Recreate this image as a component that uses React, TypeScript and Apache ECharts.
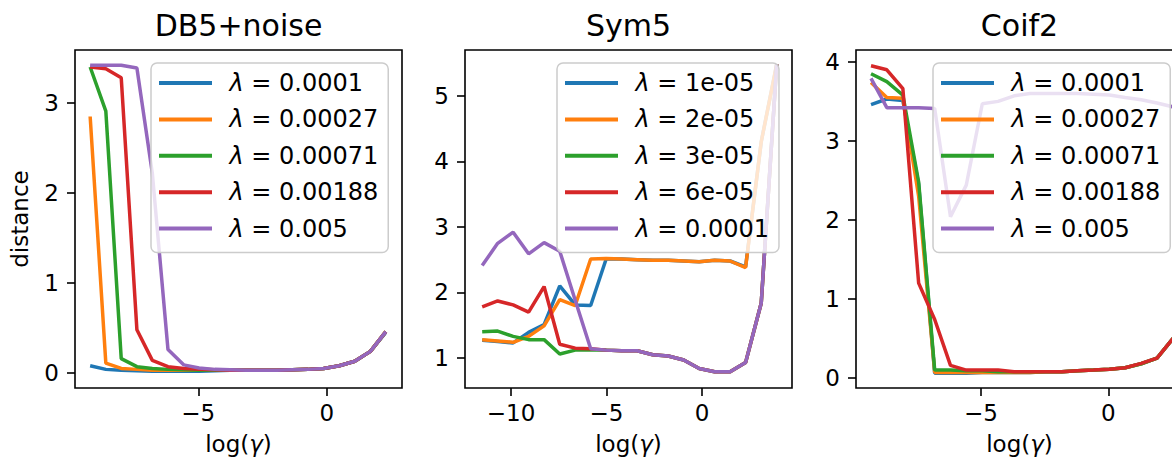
import React, { useEffect, useRef } from "react";
import * as echarts from "echarts";

// ---- data ----
const X_DB5 = [-9.21, -8.6, -8.0, -7.39, -6.79, -6.18, -5.57, -4.97, -4.36, -3.76, -3.15, -2.54, -1.94, -1.33, -0.73, -0.12, 0.49, 1.09, 1.7, 2.3];
const X_SYM5 = [-11.51, -10.7, -9.89, -9.08, -8.27, -7.45, -6.64, -5.83, -5.02, -4.21, -3.4, -2.58, -1.77, -0.96, -0.15, 0.66, 1.47, 2.28, 3.1, 3.91];
const X_COIF2 = [-9.32, -8.7, -8.07, -7.45, -6.82, -6.2, -5.58, -4.95, -4.33, -3.7, -3.08, -2.46, -1.83, -1.21, -0.58, 0.04, 0.66, 1.29, 1.91, 2.54];

const LAMBDA_DB5 = ["0.0001", "0.00027", "0.00071", "0.00188", "0.005"];
const LAMBDA_SYM5 = ["1e-05", "2e-05", "3e-05", "6e-05", "0.0001"];
const LAMBDA_COIF2 = ["0.0001", "0.00027", "0.00071", "0.00188", "0.005"];

const DB5_1 = [0.08, 0.04, 0.03, 0.025, 0.02, 0.02, 0.02, 0.02, 0.025, 0.03, 0.03, 0.03, 0.03, 0.035, 0.04, 0.05, 0.08, 0.13, 0.24, 0.45];
const DB5_2 = [2.85, 0.11, 0.05, 0.04, 0.03, 0.03, 0.03, 0.03, 0.03, 0.03, 0.03, 0.03, 0.03, 0.035, 0.04, 0.05, 0.08, 0.13, 0.24, 0.46];
const DB5_3 = [3.4, 2.91, 0.16, 0.07, 0.05, 0.04, 0.035, 0.03, 0.03, 0.03, 0.03, 0.03, 0.03, 0.035, 0.04, 0.05, 0.08, 0.13, 0.24, 0.46];
const DB5_4 = [3.4, 3.38, 3.28, 0.48, 0.14, 0.07, 0.05, 0.04, 0.035, 0.03, 0.03, 0.03, 0.03, 0.035, 0.04, 0.05, 0.08, 0.13, 0.24, 0.46];
const DB5_5 = [3.42, 3.42, 3.42, 3.39, 2.22, 0.26, 0.09, 0.055, 0.04, 0.035, 0.03, 0.03, 0.03, 0.035, 0.04, 0.05, 0.08, 0.13, 0.24, 0.46];

const SYM5_1 = [1.27, 1.25, 1.23, 1.39, 1.51, 2.1, 1.81, 1.8, 2.51, 2.51, 2.5, 2.49, 2.49, 2.48, 2.47, 2.49, 2.48, 2.39, 4.3, 5.48];
const SYM5_2 = [1.28, 1.26, 1.24, 1.33, 1.49, 1.89, 1.8, 2.51, 2.52, 2.51, 2.5, 2.49, 2.49, 2.48, 2.47, 2.49, 2.48, 2.38, 4.3, 5.48];
const SYM5_3 = [1.4, 1.41, 1.33, 1.28, 1.28, 1.06, 1.12, 1.12, 1.12, 1.11, 1.11, 1.05, 1.03, 0.97, 0.84, 0.79, 0.79, 0.93, 1.84, 5.48];
const SYM5_4 = [1.78, 1.87, 1.81, 1.7, 2.09, 1.21, 1.15, 1.14, 1.12, 1.11, 1.11, 1.05, 1.03, 0.97, 0.84, 0.79, 0.79, 0.93, 1.84, 5.48];
const SYM5_5 = [2.41, 2.75, 2.92, 2.59, 2.76, 2.63, 1.88, 1.14, 1.12, 1.11, 1.11, 1.05, 1.03, 0.97, 0.84, 0.79, 0.79, 0.93, 1.84, 5.48];

const COIF2_1 = [3.46, 3.53, 3.51, 2.45, 0.06, 0.06, 0.06, 0.07, 0.07, 0.07, 0.07, 0.08, 0.08, 0.09, 0.1, 0.11, 0.13, 0.18, 0.25, 0.5];
const COIF2_2 = [3.74, 3.55, 3.54, 2.3, 0.07, 0.07, 0.07, 0.07, 0.07, 0.07, 0.07, 0.08, 0.08, 0.09, 0.1, 0.11, 0.13, 0.18, 0.25, 0.5];
const COIF2_3 = [3.85, 3.75, 3.58, 2.48, 0.1, 0.1, 0.09, 0.09, 0.08, 0.08, 0.08, 0.08, 0.08, 0.09, 0.1, 0.11, 0.13, 0.18, 0.25, 0.5];
const COIF2_4 = [3.95, 3.9, 3.66, 1.2, 0.74, 0.16, 0.1, 0.1, 0.1, 0.08, 0.08, 0.08, 0.08, 0.09, 0.1, 0.11, 0.13, 0.185, 0.25, 0.5];
const COIF2_5 = [3.79, 3.42, 3.42, 3.42, 3.41, 2.04, 2.44, 3.47, 3.5, 3.57, 3.6, 3.6, 3.6, 3.6, 3.59, 3.58, 3.55, 3.52, 3.48, 3.43];

const TITLES = ["DB5+noise", "Sym5", "Coif2"];
const X_TICKS_DB5 = [-5, 0];
const X_TICKS_SYM5 = [-10, -5, 0];
const X_TICKS_COIF2 = [-5, 0];
const Y_TICKS_DB5 = [0, 1, 2, 3];
const Y_TICKS_SYM5 = [1, 2, 3, 4, 5];
const Y_TICKS_COIF2 = [0, 1, 2, 3, 4];

const COLORS = ["#1f77b4", "#ff7f0e", "#2ca02c", "#d62728", "#9467bd"];
const FONT = "DejaVu Sans";

export default function App() {
  const ref = useRef<HTMLDivElement>(null);
  useEffect(() => {
    if (!ref.current) return;
    const chart = echarts.init(ref.current, undefined, { renderer: "svg" });

    const panels = [
      { key: "A", x: X_DB5, ys: [DB5_1, DB5_2, DB5_3, DB5_4, DB5_5], lam: LAMBDA_DB5, xt: X_TICKS_DB5, yt: Y_TICKS_DB5,
        left: 75, xmin: -9.8, xmax: 2.93, ymin: -0.167, ymax: 3.589, legLeft: 151 },
      { key: "B", x: X_SYM5, ys: [SYM5_1, SYM5_2, SYM5_3, SYM5_4, SYM5_5], lam: LAMBDA_SYM5, xt: X_TICKS_SYM5, yt: Y_TICKS_SYM5,
        left: 465, xmin: -12.41, xmax: 4.71, ymin: 0.542, ymax: 5.70, legLeft: 557 },
      { key: "C", x: X_COIF2, ys: [COIF2_1, COIF2_2, COIF2_3, COIF2_4, COIF2_5], lam: LAMBDA_COIF2, xt: X_TICKS_COIF2, yt: Y_TICKS_COIF2,
        left: 856, xmin: -9.91, xmax: 2.93, ymin: -0.127, ymax: 4.15, legLeft: 933 },
    ];
    const TOP = 50, W = 327, H = 338;
    const fmt = (v: number) => (v < 0 ? "\u2212" + Math.abs(v) : String(v));
    const TICK = 23;

    const grid: any[] = [], xAxis: any[] = [], yAxis: any[] = [], series: any[] = [], legend: any[] = [], graphic: any[] = [];
    panels.forEach((p, pi) => {
      grid.push({ left: p.left, top: TOP, width: W, height: H, show: true, borderColor: "#000", borderWidth: 1.6, backgroundColor: "transparent" });
      xAxis.push({
        type: "value", gridIndex: pi, min: p.xmin, max: p.xmax, position: "bottom",
        axisLine: { show: false, onZero: false }, splitLine: { show: false },
        axisTick: { show: true, inside: false, length: 8, lineStyle: { color: "#000", width: 1.6 }, customValues: p.xt },
        axisLabel: { color: "#000", fontSize: TICK, fontFamily: FONT, margin: 13, customValues: p.xt, formatter: fmt },
        name: "log({g|γ})", nameLocation: "middle", nameGap: 44,
        nameTextStyle: { color: "#000", fontSize: TICK, fontFamily: FONT, rich: { g: { fontStyle: "italic", fontSize: TICK, fontFamily: FONT, color: "#000" } } },
      });
      yAxis.push({
        type: "value", gridIndex: pi, min: p.ymin, max: p.ymax, position: "left",
        axisLine: { show: false, onZero: false }, splitLine: { show: false },
        axisTick: { show: true, inside: false, length: 8, lineStyle: { color: "#000", width: 1.6 }, customValues: p.yt },
        axisLabel: { color: "#000", fontSize: TICK, fontFamily: FONT, margin: 16, customValues: p.yt, formatter: fmt },
        name: pi === 0 ? "distance" : "", nameLocation: "middle", nameGap: 44,
        nameTextStyle: { color: "#000", fontSize: TICK, fontFamily: FONT },
      });
      const names: string[] = [];
      p.ys.forEach((ys, si) => {
        const name = p.key + "|" + p.lam[si];
        names.push(name);
        series.push({
          type: "line", name, xAxisIndex: pi, yAxisIndex: pi, showSymbol: false, symbol: "none",
          lineStyle: { color: COLORS[si], width: 3.5 }, itemStyle: { color: COLORS[si] },
          data: p.x.map((xv, k) => [xv, ys[k]]), z: 2,
        });
      });
      legend.push({
        data: names, orient: "vertical", left: p.legLeft, top: 63, icon: "rect", itemWidth: 53, itemHeight: 4,
        itemGap: 10.4, padding: [7, 10, 11, 8], backgroundColor: "rgba(255,255,255,0.8)",
        borderColor: "#cccccc", borderWidth: 1.5, borderRadius: 6, selectedMode: false, z: 10,
        formatter: (n: string) => "\u00a0\u2009{l|λ} = " + n.split("|")[1],
        textStyle: { color: "#000", fontSize: 24, fontFamily: FONT, lineHeight: 26,
          rich: {
            l: { fontStyle: "italic", fontSize: 24, fontFamily: FONT, color: "#000", lineHeight: 26 },
          } },
      });
      graphic.push({
        type: "text", x: p.left + W / 2, y: 25, silent: true,
        style: { text: TITLES[pi], align: "center", verticalAlign: "middle", fontSize: 30, fontFamily: FONT, fill: "#000" },
      });
    });

    chart.setOption({
      animation: false,
      backgroundColor: "#fff",
      textStyle: { fontFamily: FONT },
      grid, xAxis, yAxis, series, legend, graphic,
    });
    return () => chart.dispose();
  }, []);
  return (
    <div style={{ position: "fixed", left: 0, top: 0, width: 1172, height: 464, overflow: "hidden", background: "#fff" }}>
      <div ref={ref} style={{ width: 1200, height: 464 }} />
    </div>
  );
}
